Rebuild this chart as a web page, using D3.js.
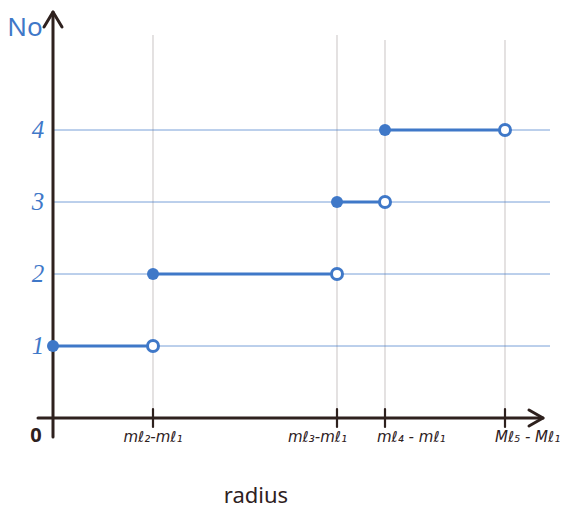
<!DOCTYPE html>
<html>
<head>
<meta charset="utf-8">
<script src="https://cdn.jsdelivr.net/npm/d3@7"></script>
<style>
  html, body { margin: 0; padding: 0; background: #fff; }
  svg { display: block; }
</style>
</head>
<body>
<svg id="chart" width="565" height="514"></svg>
<script>
// Break points along the radius axis (0 and the four differences)
const breakLabels = ["mℓ₂-mℓ₁", "mℓ₃-mℓ₁", "mℓ₄ - mℓ₁", "Mℓ₅ - Mℓ₁"];
const breakValues = [1, 2.84, 3.32, 4.52];
// Step segments: start, end, count
const stepStart = [0, 1, 2.84, 3.32];
const stepEnd   = [1, 2.84, 3.32, 4.52];
const stepLevel = [1, 2, 3, 4];
const yTicks = [1, 2, 3, 4];

const blue = "#3f78c8";
const ink = "#2e211e";

const svg = d3.select("#chart");
const x = d3.scaleLinear().domain([0, 4.9]).range([53, 543]);
const y = d3.scaleLinear().domain([0, 4]).range([418, 130]);

// vertical grid at break points
svg.append("g").selectAll("line").data(breakValues).join("line")
  .attr("x1", d => x(d)).attr("x2", d => x(d))
  .attr("y1", (d, i) => i < 2 ? 35 : 40).attr("y2", y(0))
  .attr("stroke", "#d6d2d2").attr("stroke-width", 1.3);

// horizontal grid at count levels
svg.append("g").selectAll("line").data(yTicks).join("line")
  .attr("x1", x(0)).attr("x2", 550)
  .attr("y1", d => y(d)).attr("y2", d => y(d))
  .attr("stroke", blue).attr("stroke-opacity", 0.7).attr("stroke-width", 1);

// axes
const axes = svg.append("g").attr("stroke", ink).attr("stroke-width", 3)
  .attr("fill", "none").attr("stroke-linecap", "round").attr("stroke-linejoin", "round");
axes.append("line").attr("x1", x(0)).attr("x2", x(0)).attr("y1", 437).attr("y2", 12);
axes.append("path").attr("d", `M${x(0) - 9},${27} L${x(0)},${12} L${x(0) + 9},${27}`);
axes.append("line").attr("x1", 38).attr("x2", x(4.9)).attr("y1", y(0)).attr("y2", y(0));
axes.append("path").attr("d", `M${x(4.9) - 14},${y(0) - 8} L${x(4.9)},${y(0)} L${x(4.9) - 14},${y(0) + 8}`);

// x ticks at break points
axes.selectAll("line.tick").data(breakValues).join("line").attr("class", "tick")
  .attr("x1", d => x(d)).attr("x2", d => x(d))
  .attr("y1", y(0) - 9).attr("y2", y(0) + 9).attr("stroke-width", 2.2);

// x tick labels; the crowded middle pair lean away from each other
const labelAnchor = ["middle", "end", "start", "start"];
const labelShift = [0, 10, -8, -10];
svg.append("g").selectAll("text").data(breakValues).join("text")
  .attr("x", (d, i) => x(d) + labelShift[i]).attr("y", 442)
  .attr("text-anchor", (d, i) => labelAnchor[i])
  .attr("font-family", "DejaVu Sans, sans-serif").attr("font-style", "italic")
  .attr("font-size", 15).attr("fill", ink)
  .text((d, i) => breakLabels[i]);

// y tick labels
svg.append("g").selectAll("text").data(yTicks).join("text")
  .attr("x", 38).attr("y", d => y(d) + 8)
  .attr("text-anchor", "middle")
  .attr("font-family", "Liberation Serif, serif").attr("font-style", "italic")
  .attr("font-size", 25).attr("fill", blue)
  .text(d => d);

// origin label
svg.append("text").attr("x", 36).attr("y", 442).attr("text-anchor", "middle")
  .attr("font-family", "Noto Sans, sans-serif").attr("font-weight", "bold")
  .attr("font-size", 20).attr("fill", ink).text("0");

// axis titles
svg.append("text").attr("x", 25).attr("y", 36).attr("text-anchor", "middle")
  .attr("font-family", "Noto Sans, sans-serif")
  .attr("font-size", 26).attr("fill", blue).text("No");
svg.append("text").attr("x", 256).attr("y", 503).attr("text-anchor", "middle")
  .attr("font-family", "Noto Sans, sans-serif")
  .attr("font-size", 22).attr("fill", ink).text("radius");

// step segments
const steps = d3.range(stepStart.length).map(i => ({ a: stepStart[i], b: stepEnd[i], v: stepLevel[i] }));
svg.append("g").selectAll("line").data(steps).join("line")
  .attr("x1", d => x(d.a)).attr("x2", d => x(d.b))
  .attr("y1", d => y(d.v)).attr("y2", d => y(d.v))
  .attr("stroke", blue).attr("stroke-width", 3);

// closed start points
svg.append("g").selectAll("circle").data(steps).join("circle")
  .attr("cx", d => x(d.a)).attr("cy", d => y(d.v)).attr("r", 6)
  .attr("fill", blue);

// open end points
svg.append("g").selectAll("circle").data(steps).join("circle")
  .attr("cx", d => x(d.b)).attr("cy", d => y(d.v)).attr("r", 5.5)
  .attr("fill", "#fff").attr("stroke", blue).attr("stroke-width", 3);
</script>
</body>
</html>
